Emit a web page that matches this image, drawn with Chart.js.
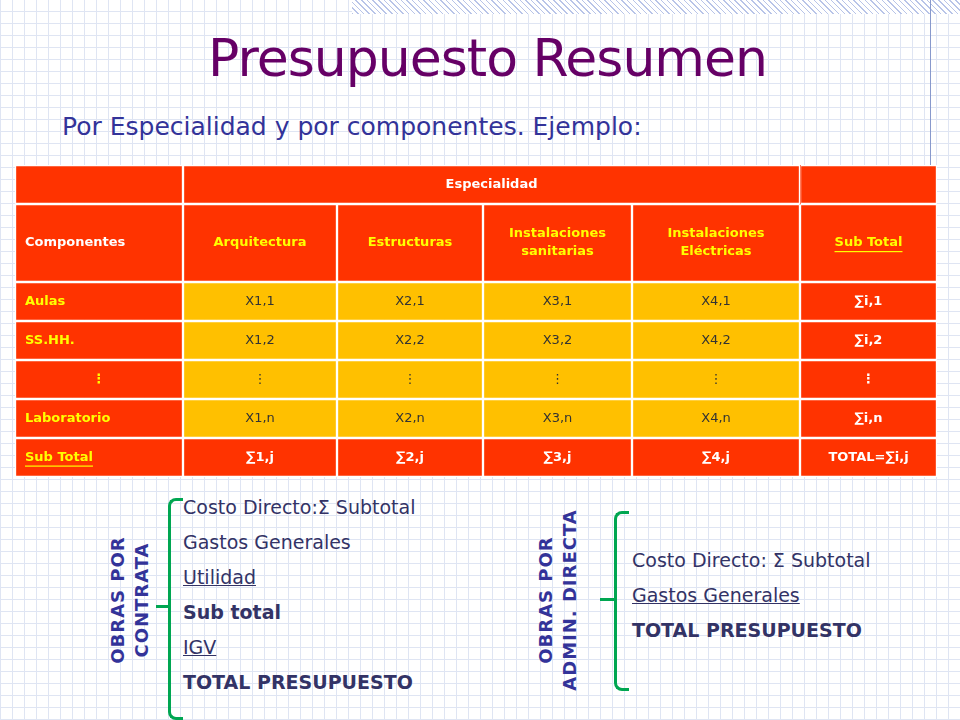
<!DOCTYPE html>
<html>
<head>
<meta charset="utf-8">
<script src="https://cdn.jsdelivr.net/npm/chart.js@4/dist/chart.umd.min.js"></script>
<style>
  body { margin:0; width:960px; height:720px; overflow:hidden; position:relative; font-family:"DejaVu Sans", Verdana, sans-serif;
    background-color:#fff;
    background-image:
      repeating-linear-gradient(0deg, #dfe5f3 0 1px, transparent 1px 12px),
      repeating-linear-gradient(90deg, #dfe5f3 0 1px, transparent 1px 12px); }
  .hatch { position:absolute; left:352px; top:0; width:608px; height:14px;
    background:repeating-linear-gradient(45deg,#b8c4e8 0 1px,#fff 1px 4px); }
  .vline { position:absolute; left:930px; top:0; width:1px; height:170px; background:#8899cc; }
  h1 { position:absolute; left:0; width:975px; top:28px; margin:0; text-align:center; font-weight:normal;
    font-family:"DejaVu Sans", sans-serif; font-size:52px; color:#660066; letter-spacing:-1px; }
  .sub { position:absolute; left:62px; top:112px; font-size:25px; color:#333399; }
  #wrap { position:absolute; left:15px; top:165px; width:922px; height:312px; }
  .list { position:absolute; font-size:19px; color:#333366; line-height:35px; }
  .list u { text-decoration:underline; }
  .rot { position:absolute; transform:rotate(-90deg); transform-origin:center; font-weight:bold; font-size:18px;
    color:#333399; text-align:center; line-height:24px; letter-spacing:1px; white-space:nowrap; }
  .br { position:absolute; border:3px solid #00a651; border-right:none; border-radius:8px 0 0 8px; }
  .tick { position:absolute; height:3px; background:#00a651; }
</style>
</head>
<body>
<div class="hatch"></div><div class="vline"></div>
<h1>Presupuesto Resumen</h1>
<div class="sub">Por Especialidad y por componentes. Ejemplo:</div>
<div id="wrap"><canvas id="tbl"></canvas></div>

<div class="rot" style="left:40px;top:576px;width:180px;">OBRAS POR<br>CONTRATA</div>
<div class="br" style="left:168px;top:498px;width:12px;height:216px;"></div>
<div class="tick" style="left:156px;top:605px;width:14px;"></div>
<div class="list" style="left:183px;top:490px;">Costo Directo:Σ Subtotal<br>Gastos Generales<br><u>Utilidad</u><br><b>Sub total</b><br><u>IGV</u><br><b>TOTAL PRESUPUESTO</b></div>

<div class="rot" style="left:458px;top:576px;width:200px;">OBRAS POR<br>ADMIN. DIRECTA</div>
<div class="br" style="left:614px;top:511px;width:12px;height:174px;"></div>
<div class="tick" style="left:600px;top:598px;width:16px;"></div>
<div class="list" style="left:632px;top:543px;">Costo Directo: Σ Subtotal<br><u>Gastos Generales</u><br><b>TOTAL PRESUPUESTO</b></div>

<script>
// --- Table data ---
const colWidths = [168, 154, 146, 149, 168, 137];
const headerTop = ["", "Especialidad", "", "", "", ""];
const headerCols = ["Componentes", "Arquitectura", "Estructuras", "Instalaciones\nsanitarias", "Instalaciones\nEléctricas", "Sub Total"];
const rowNames = ["Aulas", "SS.HH.", "⋮", "Laboratorio"];
const cellValues = [
  ["X1,1", "X2,1", "X3,1", "X4,1", "∑i,1"],
  ["X1,2", "X2,2", "X3,2", "X4,2", "∑i,2"],
  ["⋮", "⋮", "⋮", "⋮", "⋮"],
  ["X1,n", "X2,n", "X3,n", "X4,n", "∑i,n"]
];
const totalRow = ["Sub Total", "∑1,j", "∑2,j", "∑3,j", "∑4,j", "TOTAL=∑i,j"];

const RED = "#ff3300", YELLOW = "#ffc000";
const rowKeys = ["h1", "h2a", "h2b", "r0", "r1", "r2", "r3", "tot"];

function cellText(r, c) {
  if (r === 0) return headerTop[c];
  if (r === 1) return headerCols[c];
  if (r === 2) return "";
  if (r === 7) return totalRow[c];
  return c === 0 ? rowNames[r - 3] : cellValues[r - 3][c - 1];
}
function cellWidth(r, c) {
  if (r === 0) {
    if (c === 1) return colWidths[1] + colWidths[2] + colWidths[3] + colWidths[4];
    if (c > 1 && c < 5) return 0;
  }
  return colWidths[c];
}
function cellColor(r, c) {
  return (r >= 3 && r <= 6 && c >= 1 && c <= 4) ? YELLOW : RED;
}
function textColor(r, c, txt) {
  if (cellColor(r, c) === YELLOW) return "#333333";
  if (txt === "Sub Total") return "#ffff00";
  if (r === 1 && c > 0) return "#ffff00";
  if (r >= 3 && r <= 6 && c === 0) return "#ffff00";
  return "#ffffff";
}

const datasets = colWidths.map((w, c) => ({
  data: rowKeys.map((k, r) => cellWidth(r, c)),
  backgroundColor: rowKeys.map((k, r) => cellColor(r, c)),
  borderColor: "#ffffff",
  borderSkipped: false,
  borderWidth: (ctx) => {
    const r = ctx.dataIndex;
    if (ctx.raw === 0) return 0;
    return { left: 1.5, right: 1.5, top: r === 2 ? 0 : 1.5, bottom: r === 1 ? 0 : 1.5 };
  },
  barPercentage: 1,
  categoryPercentage: 1
}));

const cellLabels = {
  id: "cellLabels",
  afterDatasetsDraw(chart) {
    const ctx = chart.ctx;
    ctx.save();
    ctx.textBaseline = "middle";
    chart.data.datasets.forEach((ds, c) => {
      chart.getDatasetMeta(c).data.forEach((el, r) => {
        const txt = cellText(r, c);
        if (!txt) return;
        let cx = (el.x + el.base) / 2;
        let cy = el.y;
        if (r === 1) cy = el.y + el.height / 2;
        const yellowCell = cellColor(r, c) === YELLOW;
        const link = txt === "Sub Total";
        ctx.font = (yellowCell ? "" : "bold ") + "13px 'DejaVu Sans', Verdana, sans-serif";
        ctx.fillStyle = textColor(r, c, txt);
        let align = "center";
        if (c === 0 && txt !== "⋮") { align = "left"; cx = el.base + 10; }
        ctx.textAlign = align;
        const lines = txt.split("\n");
        lines.forEach((ln, i) => {
          const y = cy + (i - (lines.length - 1) / 2) * 18;
          ctx.fillText(ln, cx, y);
          if (link) {
            const w = ctx.measureText(ln).width;
            const x0 = align === "left" ? cx : cx - w / 2;
            ctx.fillRect(x0, y + 8, w, 1.2);
          }
        });
      });
    });
    ctx.restore();
  }
};

new Chart(document.getElementById("tbl"), {
  type: "bar",
  data: { labels: rowKeys, datasets },
  options: {
    indexAxis: "y",
    responsive: true,
    maintainAspectRatio: false,
    animation: false,
    layout: { padding: 0 },
    plugins: { legend: { display: false }, tooltip: { enabled: false } },
    scales: {
      x: { stacked: true, display: false, min: 0, max: colWidths.reduce((a, b) => a + b, 0) },
      y: { stacked: true, display: false }
    }
  },
  plugins: [cellLabels]
});
</script>
</body>
</html>
